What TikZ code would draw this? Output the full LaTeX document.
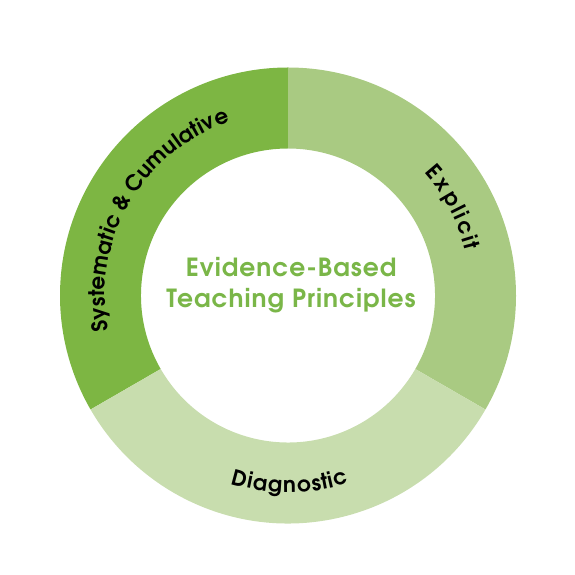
\documentclass[tikz,border=0pt]{standalone}
\usepackage{fontspec}
\setmainfont{TeX Gyre Adventor}
\usetikzlibrary{decorations.text}
\definecolor{leafdark}{HTML}{7DB643}
\definecolor{leafmid}{HTML}{A9CA82}
\definecolor{leafpale}{HTML}{C8DDAE}
\definecolor{titlegreen}{HTML}{7AB648}
\newcommand{\ringfont}{\bfseries\fontsize{21.5}{21.5}\selectfont}

\begin{document}
\begin{tikzpicture}[
    x=1pt, y=1pt,
    ringlabel/.style={
        font=\ringfont,
        decorate,
        decoration={text effects along path, text={#1},
            text effects/.cd, text along path, fit text to path,
            characters={font=\ringfont, anchor=base, inner sep=0pt}}
    }
]
\useasboundingbox (0,0) rectangle (575,575);

\begin{scope}[shift={(288,279.5)}]
% the three ring segments
\fill[leafdark] (90:228) arc[start angle=90, end angle=210, radius=228]
    -- (210:147) arc[start angle=210, end angle=90, radius=147] -- cycle;
\fill[leafmid] (90:228) arc[start angle=90, end angle=-30, radius=228]
    -- (-30:147) arc[start angle=-30, end angle=90, radius=147] -- cycle;
\fill[leafpale] (-30:228) arc[start angle=-30, end angle=-150, radius=228]
    -- (-150:147) arc[start angle=-150, end angle=-30, radius=147] -- cycle;

% curved labels
\path[ringlabel={Systematic {\&} Cumulative}]
    (191:183) arc[start angle=191, end angle=108.5, radius=183];
\path[ringlabel={Explicit}]
    (42:183) arc[start angle=42, end angle=14, radius=183];
\path[ringlabel={Diagnostic}]
    (253:197) arc[start angle=253, end angle=288, radius=197];
\end{scope}

\node[font=\bfseries\fontsize{25}{31}\selectfont\addfontfeature{LetterSpace=4},
    text=titlegreen, align=center]
    (title) at (291,290) {Evidence-Based\\Teaching Principles};
\end{tikzpicture}
\end{document}
